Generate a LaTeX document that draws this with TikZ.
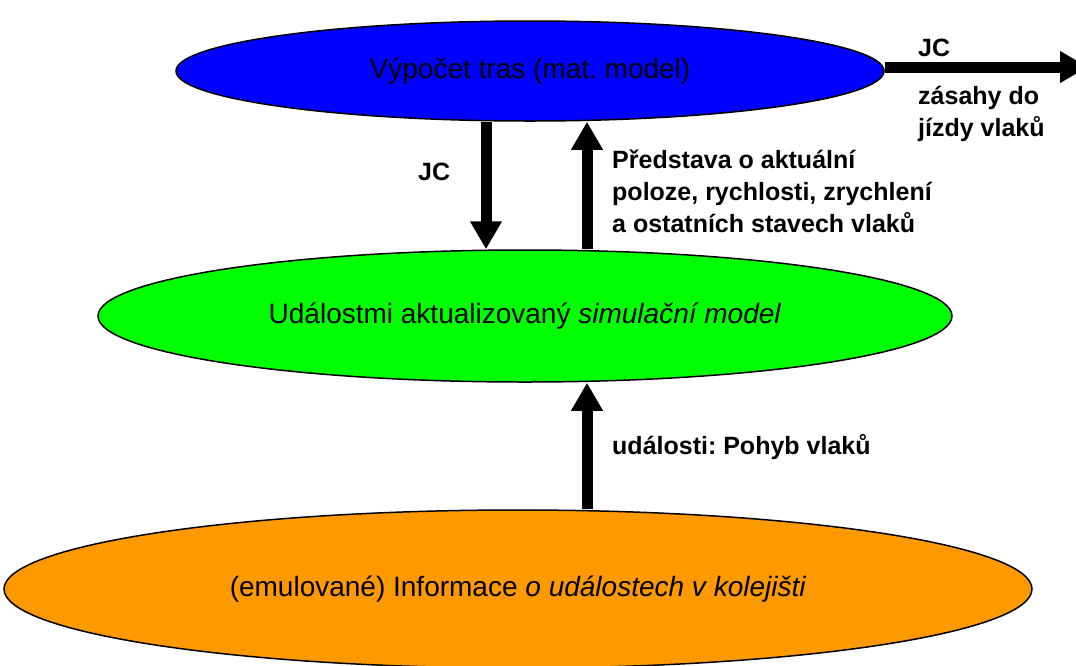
\documentclass[tikz,border=0pt]{standalone}
\usepackage{fontspec}
\setmainfont{Liberation Sans}
\usetikzlibrary{shapes.geometric,arrows.meta}
\definecolor{topblue}{RGB}{0,0,255}
\definecolor{midgreen}{RGB}{0,255,0}
\definecolor{botorange}{RGB}{255,153,0}
\frenchspacing
\tikzset{
  oval/.style={ellipse,draw=black,line width=1.5pt,inner sep=0pt,font=\fontsize{28}{32}\selectfont},
  bigarrow/.style={line width=11pt,-{Triangle[width=30pt,length=28pt]}},
  lbl/.style={font=\bfseries\fontsize{25}{32}\selectfont,align=left,inner sep=0pt},
}
\begin{document}
\begin{tikzpicture}[x=1pt,y=-1pt]
\useasboundingbox (0,0) rectangle (1076,665);
\clip (0,0) rectangle (1076,665);
\fill[white] (0,0) rectangle (1076,665);
\node[oval,fill=topblue,minimum width=708pt,minimum height=100pt] (blue) at (530,71) {Výpočet tras (mat. model)};
\node[oval,fill=midgreen,minimum width=854pt,minimum height=132pt] (green) at (525,316) {Událostmi aktualizovaný \textit{simulační model}};
\node[oval,fill=botorange,minimum width=1028pt,minimum height=158pt] (orange) at (518,589) {(emulované) Informace \textit{o událostech v kolejišti}};
\coordinate (xdown) at (486,0);
\coordinate (xup) at (587,0);
\coordinate (rend) at (1088,67);
\draw[bigarrow] (blue.east |- rend) -- (rend);
\draw[bigarrow] (blue.south -| xdown) -- (green.north -| xdown);
\draw[bigarrow] (green.north -| xup) -- (blue.south -| xup);
\draw[bigarrow] (orange.north -| xup) -- (green.south -| xup);
\node[lbl,anchor=base west] (jc1) at (918,56) {JC};
\node[lbl,anchor=base west] (zas) at (918,136) {zásahy do\\jízdy vlaků};
\node[lbl,anchor=base west] (jc2) at (418,180) {JC};
\node[lbl,anchor=base west] (pred) at (612,232) {Představa o aktuální\\poloze, rychlosti, zrychlení\\a ostatních stavech vlaků};
\node[lbl,anchor=base west] (udal) at (612,454) {události: Pohyb vlaků};
\end{tikzpicture}
\end{document}
